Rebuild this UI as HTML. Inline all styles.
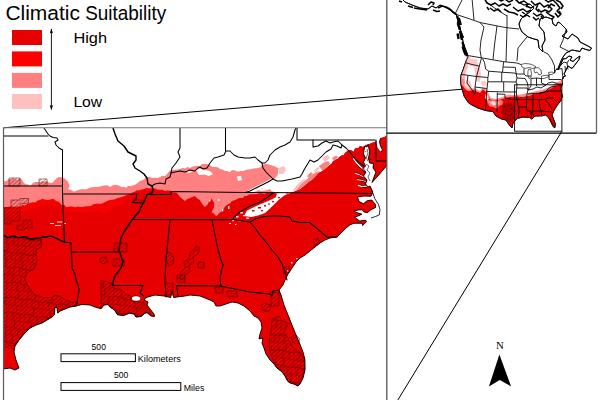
<!DOCTYPE html>
<html><head><meta charset="utf-8">
<style>
html,body{margin:0;padding:0;background:#fff;}
body{width:600px;height:400px;overflow:hidden;font-family:"Liberation Sans",sans-serif;}
svg{display:block;position:absolute;left:0;top:0;}
text{font-family:"Liberation Sans",sans-serif;fill:#000;}
.serif{font-family:"Liberation Serif",serif;}
.b{fill:none;stroke:#000;stroke-width:1.05;stroke-linejoin:round;stroke-linecap:round;}
.bt{fill:none;stroke:#000;stroke-width:1.45;stroke-linejoin:round;stroke-linecap:round;}
.c{fill:none;stroke:#000;stroke-width:0.85;stroke-linejoin:round;}
.ib{fill:none;stroke:#000;stroke-width:0.85;stroke-linejoin:round;}
</style></head><body>
<svg width="600" height="400" viewBox="0 0 600 400">
<defs>
<pattern id="hatch" width="2.9" height="2.9" patternUnits="userSpaceOnUse" patternTransform="rotate(-42)">
<line x1="0" y1="1.45" x2="2.9" y2="1.45" stroke="#400000" stroke-width="0.45" opacity="0.8"/>
</pattern>
<pattern id="cells" width="17" height="15" patternUnits="userSpaceOnUse" patternTransform="rotate(8)">
<path d="M0 0H17M0 7.5H8.5M8.5 8.5H17M0 0V15M8.5 0V7.5M6 7.5V15M13 8.5V15" stroke="#400000" stroke-width="0.45" fill="none"/>
</pattern>
<clipPath id="mainclip"><rect x="3.5" y="127.8" width="383.3" height="280"/></clipPath>
<clipPath id="insetclip"><rect x="386.8" y="-5" width="209.7" height="138"/></clipPath>
</defs>
<rect width="600" height="400" fill="#fff"/>

<!-- ZOOM LINES -->
<g id="zoomlines" stroke="#000" stroke-width="1" fill="none">
<line x1="3.5" y1="127.8" x2="514.6" y2="84.8"/>
<line x1="561.9" y1="131.2" x2="385.4" y2="420.4"/>
</g>

<!-- INSET -->
<g id="inset" clip-path="url(#insetclip)">
<polygon points="400,-3 405,2 412,5 420,8 428,9 432,6 436,8 440,5 445,7 450,10 455,14 457,16 459,22 460,28 462,35 463,42 465,48 467,53 468,57 466.5,60 465,64 463,70 461,75 460.6,80 461,85 462,89 464.4,96.7 468.7,103 472,105 472,105 478,108 485.6,110.5 493,111.6 496,116 501.6,119 506,120 510,126 512,128 513,123 517,118.5 523,117 529.7,117.5 531.8,119 535,116 542.5,115.8 545.6,114.8 548.8,118 551,122 553,126.4 554.8,127.8 555.3,124 553.5,119 552,114.8 554,110.5 557.3,105.2 560.5,101 562.3,96.7 561.3,91.4 560.5,88 562.6,84 562,80 563,77 565.5,76 564,74 566,70 568,66 572,68.5 574,66 579,59.5 580,56 577,58 573,61.5 570,60 572,57 569,56 566,58.5 563,59 561,64 558,70 559,66 561,61 563,57 566,53 572,50 580,51.5 582,48 586,49.5 590,50.5 591.5,48 586,45 580,42 578,38 572,34 568,39 562,36 567,32 566,29 560,23 558,22 556,26 553,24 552,19 546,17 540,19 539,26 544,32 545,40 542,46 543,52 539,48 538,40 534,39 528,37 522,32 520,28 519,24 521,19 525,15 530,12 534,8 530,4 524,5 518,2 512,-3" fill="#fff" stroke="#000" stroke-width="0.9" stroke-linejoin="round"/>
<polygon points="466.5,55.5 470,57 469,62 468,66 466,72 465,78 465,84 461,85 460.6,80 461,75 463,70 465,64" fill="#ffb8b8" />
<polygon points="471,59 476,60 477,64 473,65 470,63" fill="#ff8888" />
<polygon points="461,78 464,79 465.5,84 461,85 460.6,80" fill="#ff8888" />
<polygon points="476,68 479,67 480,74 479,81 476.5,80 477,73" fill="#ff8888" />
<polygon points="468,58 477,59.5 478,65 474,67 470,66 468,62" fill="#ffc8c8" />
<polygon points="474,66 480,66 481,75 480,82 476,81 475,73" fill="#ffc8c8" />
<polygon points="466,80 470,81 472,86 471,90 468,91 466,87" fill="#ffc8c8" />
<polygon points="481,81 486,81.5 487,85 483,86 481,84" fill="#ffc8c8" />
<polygon points="461,83 464,84 466,87 468,89 474,88 480,91 483,87.5 487,90 489.5,95 491,98 496,99 501.6,97.3 508.5,94.6 512,95 521,94.6 532,92 542.5,89.8 551,86.3 557,82.3 560.5,80.5 563.5,80 560.5,88 561.3,91.4 562.3,96.7 560.5,101 557.3,105.2 554,110.5 552,114.8 553.5,119 555.3,124 554.8,127.8 553,126.4 551,122 548.8,118 545.6,114.8 542.5,115.8 535,116 531.8,119 529.7,117.5 523,117 517,118.5 513,123 512,128 510,126 506,120 501.6,119 496,116 493,111.6 485.6,110.5 478,108 472,105 468.7,103 464.4,96.7" fill="#ff9090" />
<polygon points="461,85 463,86 465,89 468,91 474,90 480,93 483,89.5 486,92 488,96 490,99.5 496,100.5 502,99 509,97 515.6,96.5 522.5,97 529.4,95.8 536,93.8 543,91.7 550,89 555.5,86 558,84 560.5,83 562.6,84 560.5,88 561.3,91.4 562.3,96.7 560.5,101 557.3,105.2 554,110.5 552,114.8 553.5,119 555.3,124 554.8,127.8 553,126.4 551,122 548.8,118 545.6,114.8 542.5,115.8 535,116 531.8,119 529.7,117.5 523,117 517,118.5 513,123 512,128 510,126 506,120 501.6,119 496,116 493,111.6 485.6,110.5 478,108 472,105 468.7,103 464.4,96.7" fill="#e60000" />
<polygon points="503,104 508,102 514,104 516,110 514,118 510,124 507,120 503,118 501,112" fill="#b00000" />
<polygon points="486.5,99 490,100.5 493,100 497,101 500,99.5 503,101 502.5,104.5 499,106 497,109 493.5,107 490,106.5 488,104" fill="#ff7070" />
<polygon points="489,101 492,101.5 493,104 490.5,104.5" fill="#ffb0b0" />
<polygon points="496,102 499,101.5 500,104 497,105" fill="#ffa0a0" />
<polygon points="485.5,94 488,95.5 489,99 487,100.5 485,98" fill="#ffe0e0" />
<polygon points="492,101 495,101.5 496,104.5 493,105.5 491.5,103.5" fill="#ffe0e0" />
<rect x="504" y="106" width="1.1" height="1.1" fill="#300" opacity="0.75"/>
<rect x="506" y="109" width="1.1" height="1.1" fill="#300" opacity="0.75"/>
<rect x="508" y="105" width="1.1" height="1.1" fill="#300" opacity="0.75"/>
<rect x="509" y="111" width="1.1" height="1.1" fill="#300" opacity="0.75"/>
<rect x="511" y="108" width="1.1" height="1.1" fill="#300" opacity="0.75"/>
<rect x="505" y="113" width="1.1" height="1.1" fill="#300" opacity="0.75"/>
<rect x="508" y="115" width="1.1" height="1.1" fill="#300" opacity="0.75"/>
<rect x="511" y="114" width="1.1" height="1.1" fill="#300" opacity="0.75"/>
<rect x="513" y="110" width="1.1" height="1.1" fill="#300" opacity="0.75"/>
<rect x="507" y="118" width="1.1" height="1.1" fill="#300" opacity="0.75"/>
<rect x="510" y="119" width="1.1" height="1.1" fill="#300" opacity="0.75"/>
<rect x="512" y="117" width="1.1" height="1.1" fill="#300" opacity="0.75"/>
<rect x="514" y="113" width="1.1" height="1.1" fill="#300" opacity="0.75"/>
<rect x="503" y="110" width="1.1" height="1.1" fill="#300" opacity="0.75"/>
<rect x="530" y="113" width="1.1" height="1.1" fill="#300" opacity="0.75"/>
<rect x="533" y="114" width="1.1" height="1.1" fill="#300" opacity="0.75"/>
<rect x="527" y="115" width="1.1" height="1.1" fill="#300" opacity="0.75"/>
<rect x="551" y="121" width="1.1" height="1.1" fill="#300" opacity="0.75"/>
<rect x="552.5" y="123.5" width="1.1" height="1.1" fill="#300" opacity="0.75"/>
<rect x="553.5" y="125.5" width="1.1" height="1.1" fill="#300" opacity="0.75"/>
<rect x="550" y="119" width="1.1" height="1.1" fill="#300" opacity="0.75"/>
<rect x="540" y="108" width="1.1" height="1.1" fill="#300" opacity="0.75"/>
<rect x="543" y="110" width="1.1" height="1.1" fill="#300" opacity="0.75"/>
<rect x="521" y="113" width="1.1" height="1.1" fill="#300" opacity="0.75"/>
<rect x="518" y="115" width="1.1" height="1.1" fill="#300" opacity="0.75"/>
<polygon points="521,64.5 525,63.5 530,64 534,65.5 536,67 533,68.5 529,67.5 525,68.5 522,67" fill="#fff" stroke="#000" stroke-width="0.6"/>
<polygon points="528.5,69.5 530.5,69 531.5,73 531,77.5 529,78.5 527.8,75 528,71" fill="#fff" stroke="#000" stroke-width="0.6"/>
<polygon points="534.5,68 538,67.5 541,70 541.5,74 539,75 537,72 535,73 534,70.5" fill="#fff" stroke="#000" stroke-width="0.6"/>
<polygon points="541.5,76 545,75.5 549,75 548,77 544,78.5 541.5,78.5" fill="#fff" stroke="#000" stroke-width="0.6"/>
<polygon points="548.5,72.5 552,72 554.5,73 552,74.5 549,74.5" fill="#fff" stroke="#000" stroke-width="0.6"/>
<polyline class="ib" points="455,14 463,-2" />
<polyline class="ib" points="455,14 470,19 480,22.5 495,25.5 506,27.6 519,29" />
<polyline class="ib" points="472,-2 474,20" />
<polyline class="ib" points="480,22.5 484,27 481,40 480,50 481.4,58.5" />
<polyline class="ib" points="497,26 494.5,45 493,59.5" />
<polyline class="ib" points="507,28 506.5,45 506,61.8" />
<polyline class="ib" points="527,37 522,43 518,48 517,61" />
<polyline class="ib" points="507,15 507,28" />
<polyline class="ib" points="486,2 496,9 507,16" />
<polyline class="ib" points="466.5,55.3 482.5,58 503.7,61.7 517,63 521,64.5" />
<polyline class="ib" points="465.5,62.7 472,64.5 479.3,66" />
<polyline class="ib" points="481.4,58.5 479.3,66 478,71 476.5,76.5" />
<polyline class="ib" points="461,74.4 468,75.3 476.5,76.5 487.8,77.5" />
<polyline class="ib" points="482.5,58.5 484.6,62.7 485.6,69 488.8,71.2 488,77.5" />
<polyline class="ib" points="488.8,71.2 502.6,72.3" />
<polyline class="ib" points="503.7,61.7 503,67 502.6,72.3" />
<polyline class="ib" points="503,67 515.4,67.4" />
<polyline class="ib" points="502.6,72.3 514.3,73 517,74" />
<polyline class="ib" points="487.8,77.5 487.8,81.8 501.6,81.8 501.8,72.3" />
<polyline class="ib" points="468,75.3 467,83 475,94" />
<polyline class="ib" points="476.5,76.5 475,87 475.5,92 474,95" />
<polyline class="ib" points="475,87 486.8,88.5" />
<polyline class="ib" points="487.8,81.8 486.7,91.4 485.6,110.5" />
<polyline class="ib" points="486.7,91.4 503.7,91.9 516.4,92" />
<polyline class="ib" points="501.6,81.8 503.7,81.8 503.7,91.4" />
<polyline class="ib" points="497.3,92.5 497,111.6" />
<polyline class="ib" points="503.7,81.8 516,82 517,84 516.4,92" />
<polyline class="ib" points="497.3,94 505,94.3 505,98 512,99.5 517,99.5" />
<polyline class="ib" points="516.4,92 517,99.5 518.5,107 519,112 518,117" />
<polyline class="ib" points="515.4,67.4 516,73 517,78 516,82" />
<polyline class="ib" points="517,74 524,74 526,76" />
<polyline class="ib" points="517,78 525,78.5 527,82" />
<polyline class="ib" points="516.4,88 527,88 528,90" />
<polyline class="ib" points="517,99.5 527,99.5" />
<polyline class="ib" points="518.5,107 526.5,107" />
<polyline class="ib" points="527,82 528,86 528,90 527,94 526.5,99.5 526.5,107 527,111 531,111 531.5,117" />
<polyline class="ib" points="524,68.5 524,74" />
<polyline class="ib" points="526,76 531,76" />
<polyline class="ib" points="531,78.5 531,86 528,90" />
<polyline class="ib" points="536.5,78 536.5,86" />
<polyline class="ib" points="531,78.5 536.5,78 541.5,78.5" />
<polyline class="ib" points="528,90 533,89 537,87 541,88 546,85" />
<polyline class="ib" points="528,94 540,93 550,91" />
<polyline class="ib" points="527,99.5 533,99.5" />
<polyline class="ib" points="533,94 533,99.5 532.5,111 533.5,116" />
<polyline class="ib" points="539,99.5 540,108 541,111 542,115" />
<polyline class="ib" points="533,99.5 539,99.5 545,99.5" />
<polyline class="ib" points="532.5,111 541,111 552,112" />
<polyline class="ib" points="545,99.5 549,104 552,109" />
<polyline class="ib" points="545,99.5 548,98 553,98 557,102" />
<polyline class="ib" points="540,93 545,92 548,89 551,87 556,86" />
<polyline class="ib" points="550,91 562,91" />
<polyline class="ib" points="541.5,78.5 541.5,83 546,85 548,83 552,82" />
<polyline class="ib" points="549,75 549,79.5 561,79.5" />
<polyline class="ib" points="552,82 556,83 560,85" />
<polyline class="ib" points="554.5,73 556,69.5 562,68.5" />
<polyline class="ib" points="562,68.5 562.5,75 563.5,79" />
<polyline class="ib" points="565,66 565.5,72" />
<polyline class="ib" points="567,63 568,69.5" />
<polyline class="ib" points="556,69.5 560,66 564,62 567,63 569,60" />
<polyline class="ib" points="544,52 548,54 552,60 554.5,66 554.5,73" />
<polyline class="ib" points="566,30 563,40 560,47 570,52" />
<polyline class="ib" points="400,-3 405,2 412,5 420,8 428,9 432,6 436,8 440,5 445,7 450,10 455,14 457,16 459,22 460,28 462,35 463,42 465,48 467,53 468,57 466.5,60 465,64 463,70 461,75 460.6,80 461,85 462,89 464.4,96.7 468.7,103 472,105 472,105 478,108 485.6,110.5 493,111.6 496,116 501.6,119 506,120 510,126 512,128 513,123 517,118.5 523,117 529.7,117.5 531.8,119 535,116 542.5,115.8 545.6,114.8 548.8,118 551,122 553,126.4 554.8,127.8 555.3,124 553.5,119 552,114.8 554,110.5 557.3,105.2 560.5,101 562.3,96.7 561.3,91.4 560.5,88 562.6,84 562,80 563,77 565.5,76 564,74 566,70 568,66 572,68.5 574,66 579,59.5 580,56 577,58 573,61.5 570,60 572,57 569,56 566,58.5 563,59 561,64 558,70 559,66 561,61 563,57 566,53 572,50 580,51.5 582,48 586,49.5 590,50.5 591.5,48 586,45 580,42 578,38 572,34 568,39 562,36 567,32 566,29 560,23 558,22 556,26 553,24 552,19 546,17 540,19 539,26 544,32 545,40 542,46 543,52 539,48 538,40 534,39 528,37 522,32 520,28 519,24 521,19 525,15 530,12 534,8 530,4 524,5 518,2 512,-3" />
<polyline class="ib" points="484,-2 487,3 491,5 495,3 499,6 503,4 507,6 511,4" style="stroke-width:1.5"/>
<polyline class="ib" points="513,7 518,11 523,9 527,12 531,10" style="stroke-width:1.5"/>
<polyline class="ib" points="504,9 509,12 514,13 518,15" style="stroke-width:1.5"/>
<polyline class="ib" points="531,1 535,5 540,3 544,7 548,5 552,9 549,12 545,10 541,12 538,9" style="stroke-width:1.5"/>
<polyline class="ib" points="543,-2 548,2 553,0 557,4 560,8 557,11 560,14" style="stroke-width:1.5"/>
<polyline class="ib" points="520,15 523,17 527,15 530,17" style="stroke-width:1.5"/>
<polyline class="ib" points="533,13 537,16 541,14 544,17" style="stroke-width:1.5"/>
<polyline class="ib" points="555,13 558,17 561,14 559,11" style="stroke-width:1.5"/>
<polyline class="ib" points="490,8 494,11 498,9 501,12" style="stroke-width:1.5"/>
<polyline class="ib" points="546,12 550,15 554,17 552,19" style="stroke-width:1.5"/>
<polyline class="ib" points="538,4 536,9 539,12" style="stroke-width:1.5"/>
<polyline class="ib" points="515,-2 519,3 524,1 528,4 526,7" style="stroke-width:1.5"/>
<polyline class="ib" points="526,6 531,8 534,6" style="stroke-width:1.5"/>
<polyline class="ib" points="497,-2 501,1 505,-1 509,2 513,0" style="stroke-width:1.5"/>
<polyline class="ib" points="548,8 551,4 555,6" style="stroke-width:1.5"/>
<polyline class="ib" points="533,17 536,20 539,18" style="stroke-width:1.5"/>
<polyline class="ib" points="556,0 560,2 563,6 561,9" style="stroke-width:1.5"/>
<polyline class="ib" points="541,16 543,19" style="stroke-width:1.5"/>
<polyline class="ib" points="522,12 525,14" style="stroke-width:1.5"/>
<polyline class="ib" points="487,7 489,10" style="stroke-width:1.5"/>
<polyline class="ib" points="399,1 402,2" style="stroke-width:1.6"/>
<polyline class="ib" points="408,6 413,7.5" style="stroke-width:1.6"/>
<polyline class="ib" points="414,8 420,9 427,10" style="stroke-width:1.6"/>
<polyline class="ib" points="428,5 431,2 434,3 433,5" style="stroke-width:1.6"/>
<polyline class="ib" points="433,10 437,11.5 440,11" style="stroke-width:1.6"/>
<polyline class="ib" points="438,8 442,6 446,7 450,9" style="stroke-width:1.6"/>
<polyline class="ib" points="450,9 453,12 457,15" style="stroke-width:1.6"/>
<polyline class="ib" points="457,16 458.5,20 458,24 460,30" style="stroke-width:2.4"/>
<polyline class="ib" points="460,31 461,36 462,40" style="stroke-width:2.4"/>
<polyline class="ib" points="462.5,42 464.5,50 467,56" style="stroke-width:2.4"/>
<polyline class="ib" points="458.8,18 460.8,25" style="stroke-width:2.4"/>
<polyline class="ib" points="461,33 463,38" style="stroke-width:2.4"/>
<polyline class="ib" points="457.6,33.5 458.6,39" style="stroke-width:2.4"/>
<polyline class="ib" points="462.6,46.5 464,51 465.8,55" style="stroke-width:2.4"/>
</g>
<rect x="514.6" y="84.8" width="47.3" height="46.4" fill="none" stroke="#000" stroke-width="0.9"/>

<!-- MAIN MAP -->
<g id="main" clip-path="url(#mainclip)">
<polygon points="3.0,181.0 6.4,181.2 9.0,179.0 11.3,179.4 13.3,177.5 15.7,179.4 17.9,179.4 20.0,178.0 22.3,180.3 24.0,183.0 25.9,184.2 28.2,184.6 30.0,186.0 33.0,183.0 35.2,182.0 37.6,181.9 40.0,182.0 42.2,181.0 44.7,181.5 47.0,181.0 49.2,182.8 52.0,183.0 55.0,180.0 57.1,177.8 60.0,177.0 64.0,178.0 66.0,179.5 67.8,181.6 69.0,184.0 69.6,186.7 68.0,189.0 70.9,189.8 73.5,191.5 75.8,191.0 77.9,190.0 80.2,189.6 82.5,189.0 85.1,189.6 87.6,188.8 89.9,187.6 92.5,187.3 95.0,187.1 97.5,187.0 100.0,186.6 102.4,185.7 104.9,185.6 107.4,185.2 110.1,186.9 112.5,185.5 114.9,184.7 117.2,185.0 119.4,185.7 121.5,187.0 123.8,187.0 126.0,187.7 128.0,186.1 130.4,186.0 132.7,185.4 135.0,184.7 137.6,183.0 140.0,181.0 144.0,179.5 146.0,177.0 149.1,176.7 152.0,178.0 154.7,177.7 157.4,178.0 160.0,177.0 162.4,175.8 165.0,176.0 168.0,173.0 169.5,170.8 172.0,170.0 174.7,169.7 177.4,169.6 180.0,169.0 182.4,168.0 185.0,168.5 187.4,167.0 190.0,168.0 192.9,166.6 196.0,166.0 200.0,166.0 202.0,164.1 204.5,164.1 207.0,164.0 210.0,165.0 212.2,166.9 215.0,167.0 217.8,167.3 220.0,169.0 222.6,169.6 225.0,171.0 227.2,171.0 229.5,172.3 231.8,170.2 234.0,170.0 236.2,171.3 238.5,171.4 240.8,171.0 243.0,171.0 247.0,169.5 249.2,169.4 251.4,169.1 253.6,168.6 255.8,168.3 258.0,168.0 260.5,167.2 262.0,165.0 265.0,164.0 267.6,164.1 270.0,165.0 274.0,166.0 275.9,167.1 278.0,168.0 278.0,170.5 278.0,173.0 277.6,175.3 276.0,177.0 273.0,180.0 270.0,183.0 268.0,184.4 266.1,185.8 264.0,187.0 262.4,188.9 260.0,189.0 258.0,190.0 262.0,191.0 264.7,190.4 267.4,189.9 270.0,189.0 271.7,191.3 274.5,192.0 277.7,191.9 280.0,194.0 282.4,195.2 285.0,195.0 287.7,193.1 291.0,192.7 293.2,191.7 295.5,190.7 297.3,189.0 300.0,189.0 302.0,187.6 303.7,185.9 304.8,183.5 307.5,183.0 309.3,181.5 311.6,180.4 313.3,178.7 315.0,177.0 316.6,175.2 318.1,173.2 320.3,172.1 322.5,171.0 324.0,169.1 326.1,167.9 328.2,166.6 330.0,165.0 331.8,163.4 333.0,161.1 335.1,159.8 337.5,159.0 339.2,157.2 341.0,155.7 343.8,155.4 345.0,153.0 348.0,150.5 350.0,150.0 352.2,150.7 354.0,152.0 354.2,149.6 356.0,148.0 358.5,148.1 360.0,146.0 363.0,147.0 366.0,145.0 368.0,144.5 372.0,143.0 376.0,141.5 378.2,140.6 380.0,139.0 381.8,137.6 384.1,137.3 386.0,136.0 388.0,136.0 388,164 383,170 377,177 372,182.5 374,177 376,172 373,168 373.5,163.5 369.5,163 368.5,158 369.7,152 368.7,147.5 368,144.5 367,147 365,146 364,150 363.5,154 365.5,158 363.5,162 365.5,166 362.5,169 366,172 363.5,176 367,180 365.5,184 368,187 370,186 371.7,189.5 372.5,193.2 371,196.2 364,196 357.5,197 359,201.5 363.5,203.7 367.2,200.7 371.7,200 375.5,204.5 375.5,207.5 371,209.7 367.2,212.7 364.2,212 362,209.7 358,210 353.7,211.2 358,213 362,214.2 358,216 354.5,217.2 359.7,221 365.7,220.2 366.5,221.7 362.7,225.5 362,223.2 354.5,223.2 350,224.7 345.5,228.5 341,233 337,237 330,238 325,240 320,243 315,247 310,251 305,255 300,258 296,262 292,268 288,274 285,280 283,285 279,290 281,295 284,305 288,315 292,325 296,335 299,342 303,352 305,360 305,370 303,378 300,384 298,386 294,384 290,383 287,380 285,376 282,372 277,368 274,364 270,360 266,354 264,348 262,343 263,338 259,339 260,334 262,328 261,322 258,318 254,316 250,311 244,306 238,303 232,302 226,304 220,306 216,306 214,302 210,300 205,298 200,296 190,295 185,296 179,296.7 173.7,297.5 172,291 170.7,297.5 164,296 155,295 146,297.5 144,300 148,302 147,305 150,309 154,314 154.5,316.5 151,316 147,312.5 144.5,313.5 141,316.5 136,317 134,314 129.5,313.2 123.5,315.5 117.5,314.7 114.5,310 110,307 108,304.5 104,305 101,308.7 95,307 90,305 82,304.5 76,306 70,307 65,309 60,311 57.7,313 57,307.5 54.8,307.5 54.5,314.5 52,317 47,320 42,323 36,325 30,328 24,334 19,340 15,346 14,352 16,360 19,368 15,370 10,368 3,369" fill="#ff8080" />
<polygon points="278,168 284,166 286,170 283,174 279,174" fill="#ffc0c0" />
<polygon points="322,158 328,155 330,158 325,162" fill="#ffc0c0" />
<polygon points="3.0,207.0 5.4,207.0 7.9,207.0 10.3,206.6 12.7,206.6 15.1,206.9 17.6,206.2 20.0,207.0 22.1,205.0 25.2,205.5 27.4,203.7 30.0,203.0 32.5,202.2 35.3,202.4 37.5,200.6 40.0,200.0 42.3,198.7 44.8,199.5 47.3,200.0 49.7,199.8 52.0,199.0 54.3,199.3 56.0,201.1 58.3,201.4 60.0,203.0 61.6,204.9 64.5,204.9 66.0,207.0 68.4,206.9 70.7,206.2 73.1,206.8 75.4,207.3 77.8,206.4 80.1,207.1 82.5,207.0 84.6,206.5 86.9,206.3 89.1,206.2 91.3,205.8 93.1,204.2 95.3,203.9 97.5,203.5 100.2,204.0 102.6,203.2 105.0,202.0 107.4,200.9 109.9,200.1 112.5,199.7 115.1,199.3 117.4,197.9 120.0,197.5 122.6,196.8 125.1,195.8 127.5,194.5 130.3,194.3 132.5,192.5 135.0,191.5 137.1,190.3 139.5,190.3 141.7,189.4 144.0,189.0 146.9,187.9 150.0,188.5 152.4,188.1 154.8,188.5 157.0,189.5 159.6,189.8 162.2,189.7 164.7,191.0 167.4,190.5 170.0,190.5 172.7,192.4 176.0,192.5 178.3,194.5 180.0,197.0 182.5,198.9 185.0,201.0 187.1,198.9 190.0,198.0 192.5,196.9 195.0,196.0 197.0,198.7 200.0,200.0 200.9,202.9 202.8,205.1 205.0,207.0 208.0,204.0 209.0,201.8 210.9,200.2 212.0,198.0 211.7,200.6 214.3,202.4 214.0,205.0 213.7,207.6 212.1,209.7 211.0,212.0 214.0,213.4 216.0,216.0 218.5,214.9 220.6,213.4 222.0,211.0 223.9,208.4 226.0,206.0 228.1,204.5 230.6,203.3 232.0,201.0 234.8,200.4 237.4,199.1 240.0,198.0 242.6,198.3 244.5,196.2 247.0,196.0 249.5,194.6 252.2,194.4 255.0,194.5 257.3,194.1 259.6,193.5 262.0,193.5 264.4,194.1 266.8,193.1 269.2,192.4 271.6,193.2 274.0,193.0 276.9,194.2 280.0,194.0 282.4,195.1 285.0,195.0 287.7,193.2 291.0,192.7 293.2,191.7 295.5,190.8 297.4,189.1 300.0,189.0 302.0,187.6 303.7,185.9 304.9,183.6 307.5,183.0 309.3,181.5 311.5,180.4 313.3,178.7 315.0,177.0 316.7,175.2 318.2,173.3 320.3,172.2 322.5,171.0 324.1,169.1 326.2,167.9 328.2,166.6 330.0,165.0 331.8,163.4 333.1,161.2 335.1,159.9 337.5,159.0 339.2,157.3 341.1,155.8 343.7,155.2 345.0,153.0 348.0,150.5 350.0,150.0 352.1,150.7 354.0,152.0 354.3,149.7 356.0,148.0 358.5,147.9 360.0,146.0 363.0,147.0 366.0,145.0 368.0,144.5 372.0,143.0 376.0,141.5 378.2,140.5 380.0,139.0 381.8,137.7 384.1,137.2 386.0,136.0 388.0,136.0 388,164 383,170 377,177 372,182.5 374,177 376,172 373,168 373.5,163.5 369.5,163 368.5,158 369.7,152 368.7,147.5 368,144.5 367,147 365,146 364,150 363.5,154 365.5,158 363.5,162 365.5,166 362.5,169 366,172 363.5,176 367,180 365.5,184 368,187 370,186 371.7,189.5 372.5,193.2 371,196.2 364,196 357.5,197 359,201.5 363.5,203.7 367.2,200.7 371.7,200 375.5,204.5 375.5,207.5 371,209.7 367.2,212.7 364.2,212 362,209.7 358,210 353.7,211.2 358,213 362,214.2 358,216 354.5,217.2 359.7,221 365.7,220.2 366.5,221.7 362.7,225.5 362,223.2 354.5,223.2 350,224.7 345.5,228.5 341,233 337,237 330,238 325,240 320,243 315,247 310,251 305,255 300,258 296,262 292,268 288,274 285,280 283,285 279,290 281,295 284,305 288,315 292,325 296,335 299,342 303,352 305,360 305,370 303,378 300,384 298,386 294,384 290,383 287,380 285,376 282,372 277,368 274,364 270,360 266,354 264,348 262,343 263,338 259,339 260,334 262,328 261,322 258,318 254,316 250,311 244,306 238,303 232,302 226,304 220,306 216,306 214,302 210,300 205,298 200,296 190,295 185,296 179,296.7 173.7,297.5 172,291 170.7,297.5 164,296 155,295 146,297.5 144,300 148,302 147,305 150,309 154,314 154.5,316.5 151,316 147,312.5 144.5,313.5 141,316.5 136,317 134,314 129.5,313.2 123.5,315.5 117.5,314.7 114.5,310 110,307 108,304.5 104,305 101,308.7 95,307 90,305 82,304.5 76,306 70,307 65,309 60,311 57.7,313 57,307.5 54.8,307.5 54.5,314.5 52,317 47,320 42,323 36,325 30,328 24,334 19,340 15,346 14,352 16,360 19,368 15,370 10,368 3,369" fill="#f60000" />
<polygon points="3.0,214.0 5.4,213.0 7.8,213.2 10.3,214.3 12.7,212.4 15.1,212.3 17.6,213.2 20.0,213.0 22.6,212.3 24.9,210.9 27.3,209.6 30.0,209.0 32.4,207.8 35.1,207.8 37.5,206.6 40.0,206.0 42.5,206.7 44.9,206.4 47.1,204.3 49.5,204.4 52.0,205.0 54.6,206.1 57.7,206.1 60.0,208.0 62.4,208.7 63.7,211.2 66.0,212.0 68.4,211.2 70.7,212.2 73.1,212.1 75.5,212.0 77.8,213.1 80.2,212.6 82.5,213.0 85.1,213.1 87.5,212.3 90.1,213.0 92.4,211.0 95.1,211.9 97.5,211.0 100.0,211.5 102.4,212.6 105.0,213.0 107.8,212.4 109.8,210.6 112.0,209.0 114.0,207.9 116.3,207.5 117.5,205.1 120.0,205.0 122.2,204.0 123.5,201.6 126.0,201.0 127.9,199.6 130.0,198.7 132.0,197.5 133.7,195.2 135.9,193.7 138.2,192.2 141.0,191.5 143.2,190.9 145.6,191.9 147.7,190.4 150.0,190.5 152.3,190.8 154.7,191.1 157.0,191.5 159.6,191.6 162.2,191.2 164.8,191.1 167.4,191.9 170.0,192.0 172.8,193.7 176.0,193.5 178.1,195.7 180.0,198.0 182.5,200.0 185.0,202.0 187.3,200.1 190.0,199.0 192.4,197.8 195.0,197.0 197.7,198.8 200.0,201.0 201.7,203.3 203.1,205.8 205.0,208.0 208.0,205.0 208.7,202.6 210.0,200.5 212.0,199.0 212.8,201.3 212.7,203.8 214.0,206.0 213.3,208.4 212.2,210.7 211.0,213.0 212.9,215.8 216.0,217.0 217.9,215.0 219.4,212.7 222.0,211.5 224.1,210.2 224.3,207.6 226.0,206.0 228.1,204.5 230.6,203.3 232.0,201.0 234.8,200.4 237.4,199.1 240.0,198.0 242.6,198.3 244.5,196.2 247.0,196.0 249.5,194.6 252.2,194.4 255.0,194.5 257.3,194.1 259.6,193.5 262.0,193.5 264.4,194.1 266.8,193.1 269.2,192.4 271.6,193.2 274.0,193.0 276.9,194.2 280.0,194.0 282.4,195.1 285.0,195.0 287.7,193.2 291.0,192.7 293.2,191.7 295.5,190.8 297.4,189.1 300.0,189.0 302.0,187.6 303.7,185.9 304.9,183.6 307.5,183.0 309.3,181.5 311.5,180.4 313.3,178.7 315.0,177.0 316.7,175.2 318.2,173.3 320.3,172.2 322.5,171.0 324.1,169.1 326.2,167.9 328.2,166.6 330.0,165.0 331.8,163.4 333.1,161.2 335.1,159.9 337.5,159.0 339.2,157.3 341.1,155.8 343.7,155.2 345.0,153.0 348.0,150.5 350.0,150.0 352.1,150.7 354.0,152.0 354.3,149.7 356.0,148.0 358.5,147.9 360.0,146.0 363.0,147.0 366.0,145.0 368.0,144.5 372.0,143.0 376.0,141.5 378.2,140.5 380.0,139.0 381.8,137.7 384.1,137.2 386.0,136.0 388.0,136.0 388,164 383,170 377,177 372,182.5 374,177 376,172 373,168 373.5,163.5 369.5,163 368.5,158 369.7,152 368.7,147.5 368,144.5 367,147 365,146 364,150 363.5,154 365.5,158 363.5,162 365.5,166 362.5,169 366,172 363.5,176 367,180 365.5,184 368,187 370,186 371.7,189.5 372.5,193.2 371,196.2 364,196 357.5,197 359,201.5 363.5,203.7 367.2,200.7 371.7,200 375.5,204.5 375.5,207.5 371,209.7 367.2,212.7 364.2,212 362,209.7 358,210 353.7,211.2 358,213 362,214.2 358,216 354.5,217.2 359.7,221 365.7,220.2 366.5,221.7 362.7,225.5 362,223.2 354.5,223.2 350,224.7 345.5,228.5 341,233 337,237 330,238 325,240 320,243 315,247 310,251 305,255 300,258 296,262 292,268 288,274 285,280 283,285 279,290 281,295 284,305 288,315 292,325 296,335 299,342 303,352 305,360 305,370 303,378 300,384 298,386 294,384 290,383 287,380 285,376 282,372 277,368 274,364 270,360 266,354 264,348 262,343 263,338 259,339 260,334 262,328 261,322 258,318 254,316 250,311 244,306 238,303 232,302 226,304 220,306 216,306 214,302 210,300 205,298 200,296 190,295 185,296 179,296.7 173.7,297.5 172,291 170.7,297.5 164,296 155,295 146,297.5 144,300 148,302 147,305 150,309 154,314 154.5,316.5 151,316 147,312.5 144.5,313.5 141,316.5 136,317 134,314 129.5,313.2 123.5,315.5 117.5,314.7 114.5,310 110,307 108,304.5 104,305 101,308.7 95,307 90,305 82,304.5 76,306 70,307 65,309 60,311 57.7,313 57,307.5 54.8,307.5 54.5,314.5 52,317 47,320 42,323 36,325 30,328 24,334 19,340 15,346 14,352 16,360 19,368 15,370 10,368 3,369" fill="#e60000" />
<polygon points="262.5,165 270,165 274,167 277,172 275,178 272,180 268,175 265,170" fill="#ff8080" />
<polygon points="244,216 247,210.5 252,208 258,205.3 265,202.3 271,199.8 275.7,197.3 277,193.5 285,193 291,190 300,186 307.5,180 307.5,183 300,189 291,192.7 285,195 279,199.5 274,204.5 270,208.5 265,213 258,215.5 251,217" fill="#fff" />
<polygon points="244,192.5 250,189.5 256,186.5 262,183.5 268,180.5 272,178 275,180 270,184 264,187.5 258,190.5 252,192.5" fill="#fff" />
<polygon points="237,176.5 241,176 242,180 238,181" fill="#fff" />
<polygon points="196,170 200,168.5 205,170 210,171 213,174 209,176 204,174.5 199,175" fill="#fff" />
<polygon points="186,170.5 190,170 192,172 188,173" fill="#fff" />
<polygon points="376.6,139 380.5,138 379.5,142 380.5,146 382.5,150 380.5,151.5 377.5,147.5 376.6,143" fill="#fff" />
<rect x="240" y="212" width="3" height="1.5" fill="#fff" opacity="0.85"/>
<rect x="236" y="216" width="2.5" height="1.5" fill="#fff" opacity="0.85"/>
<rect x="243" y="215" width="2" height="1.2" fill="#fff" opacity="0.85"/>
<rect x="232" y="220" width="2" height="1.2" fill="#fff" opacity="0.85"/>
<rect x="238" y="220" width="3" height="1.2" fill="#fff" opacity="0.85"/>
<rect x="246" y="217.5" width="3" height="1.3" fill="#fff" opacity="0.85"/>
<rect x="229" y="223" width="2" height="1" fill="#fff" opacity="0.85"/>
<rect x="235" y="224" width="1.5" height="1" fill="#fff" opacity="0.85"/>
<rect x="250" y="214.5" width="2.5" height="1.2" fill="#fff" opacity="0.85"/>
<rect x="254" y="212" width="2" height="1.2" fill="#fff" opacity="0.85"/>
<rect x="228" y="206" width="1.5" height="3" fill="#fff" opacity="0.85"/>
<rect x="222" y="209" width="1.2" height="2.5" fill="#fff" opacity="0.85"/>
<rect x="218" y="199" width="1.5" height="2" fill="#fff" opacity="0.85"/>
<rect x="209" y="200" width="1.5" height="1.5" fill="#fff" opacity="0.85"/>
<rect x="50" y="223" width="4" height="1" fill="#fff" opacity="0.85"/>
<rect x="57" y="221.5" width="5" height="1" fill="#fff" opacity="0.85"/>
<rect x="63" y="223" width="3" height="1" fill="#fff" opacity="0.85"/>
<rect x="55" y="225" width="6" height="0.9" fill="#fff" opacity="0.85"/>
<rect x="262" y="186" width="2" height="1.5" fill="#fff" opacity="0.85"/>
<rect x="255" y="190" width="2" height="1.2" fill="#fff" opacity="0.85"/>
<rect x="291" y="262" width="1.5" height="1.5" fill="#fff" opacity="0.85"/>
<rect x="296" y="258" width="1.5" height="1.2" fill="#fff" opacity="0.85"/>
<rect x="287" y="270" width="1.2" height="1.5" fill="#fff" opacity="0.85"/>
<rect x="258" y="207" width="3" height="1.5" fill="#e60000"/>
<rect x="264" y="205" width="2" height="1.5" fill="#e60000"/>
<rect x="252" y="210" width="2.5" height="1.5" fill="#e60000"/>
<rect x="268" y="203.5" width="2" height="1.2" fill="#e60000"/>
<rect x="272" y="201" width="2" height="1.3" fill="#e60000"/>
<rect x="261" y="210" width="2" height="1.3" fill="#e60000"/>
<rect x="278" y="197" width="2" height="1.2" fill="#e60000"/>
<rect x="286" y="192.5" width="2.5" height="1" fill="#e60000"/>
<rect x="295" y="188" width="2" height="1" fill="#e60000"/>
<polygon points="292,192 296,186 300,182 304,179 306,180 300,185 296,190.5" fill="#ffc0c0" />
<polygon points="313,171 318,167 320,168 316,172" fill="#ffc0c0" />
<polygon points="296,190.5 300,185 306,180 311,175.5 316,172 320,171 315,177 307.5,183 300,189" fill="#ff8080" />
<polygon points="319,166 324,162.5 328,161 330,163 327,167.5 322.5,171" fill="#ff8080" />
<polygon points="332,158 336,155.5 338,157 334,161" fill="#ff8080" />
<polygon points="307,176 311,172 313,174 309,178" fill="#ff8080" />
<polyline points="365.5,171 361,167 357,163 353.5,158" fill="none" stroke="#fff" stroke-width="1.6"/>
<polyline points="364,177 359,174.5 355,173" fill="none" stroke="#fff" stroke-width="1.2"/>
<polyline points="366,181.5 361,180 357,179.5" fill="none" stroke="#fff" stroke-width="1.2"/>
<polyline points="367,186 362,186.5 358,185" fill="none" stroke="#fff" stroke-width="1.4"/>
<polyline points="367,149 368,153 366.5,157 367.5,161" fill="none" stroke="#000" stroke-width="0.6"/>
<polyline points="366,164 369,166 367,170 370,173 368,177 370,181" fill="none" stroke="#000" stroke-width="0.6"/>
<polyline points="369,160 371,159" fill="none" stroke="#000" stroke-width="0.6"/>
<polyline points="365,152 366.5,151" fill="none" stroke="#000" stroke-width="0.6"/>
<polyline points="365.5,170 361,166 357,162 353.5,157" fill="none" stroke="#000" stroke-width="0.6"/>
<polyline points="365,172.5 360.5,168.5 356.5,164.5" fill="none" stroke="#000" stroke-width="0.6"/>
<polyline points="364,176.3 359,173.8 355,172.3" fill="none" stroke="#000" stroke-width="0.6"/>
<polyline points="364,178 359,175.6" fill="none" stroke="#000" stroke-width="0.6"/>
<polyline points="366,180.8 361,179.3 357,178.8" fill="none" stroke="#000" stroke-width="0.6"/>
<polyline points="366,182.5 361,181" fill="none" stroke="#000" stroke-width="0.6"/>
<polyline points="367,185.2 362,185.7 358,184.2" fill="none" stroke="#000" stroke-width="0.6"/>
<polyline points="367,187.2 362,187.6" fill="none" stroke="#000" stroke-width="0.6"/>
<ellipse cx="136" cy="298.5" rx="4.5" ry="2.6" fill="#fff" stroke="#300" stroke-width="0.5"/>
<polygon points="9,178 20,178 20,186 9,186" fill="url(#hatch)" stroke="#400" stroke-width="0.5"/>
<polygon points="39,179 47,179 47,186 39,186" fill="url(#hatch)" stroke="#400" stroke-width="0.5"/>
<polygon points="11,200 20,200 20,198.5 28.5,198.5 28.5,203 20,204 20,221 11,221 11,224 4,224 4,208 11,208" fill="url(#hatch)" stroke="#400" stroke-width="0.5"/>
<polygon points="23,220 32,220 32,228 25,228 25,230 17,230 17,225 23,225" fill="url(#hatch)" stroke="#400" stroke-width="0.5"/>
<polygon points="3,238 10,238 20,237 30,239 41.6,239 41.6,247 36,250 37,261.5 33.8,269.4 27,272.8 24.8,279.5 28,286 33.8,294 42.8,297.5 51.8,297.5 55,295 60.8,296.4 65.3,299.8 72,302 77.7,303 76,306 70,307 65,309 60,311 57.7,313 57,307.5 54.8,307.5 54.5,314.5 52,317 47,320 42,323 36,325 30,328 24,334 19,340 15,346 13,349 9,345 6,348 3,346" fill="url(#hatch)" stroke="#400" stroke-width="0.5"/>
<polygon points="3,238 10,238 20,237 30,239 41.6,239 41.6,247 36,250 37,261.5 33.8,269.4 27,272.8 24.8,279.5 28,286 33.8,294 42.8,297.5 51.8,297.5 55,295 60.8,296.4 65.3,299.8 72,302 77.7,303 76,306 70,307 65,309 60,311 57.7,313 57,307.5 54.8,307.5 54.5,314.5 52,317 47,320 42,323 36,325 30,328 24,334 19,340 15,346 13,349 9,345 6,348 3,346" fill="url(#cells)" />
<polygon points="101,280 112,283 113,288 120,289 126,294 131,296 132,301 140,302 144,303 146,307 149,311 151,316 147,312.5 144.5,313.5 141,316.5 136,317 134,314 129.5,313.2 123.5,315.5 117.5,314.7 114.5,310 110,307 108,304.5 104,305 101,308.7" fill="url(#hatch)" stroke="#400" stroke-width="0.5"/>
<polygon points="101,280 112,283 113,288 120,289 126,294 131,296 132,301 140,302 144,303 146,307 149,311 151,316 147,312.5 144.5,313.5 141,316.5 136,317 134,314 129.5,313.2 123.5,315.5 117.5,314.7 114.5,310 110,307 108,304.5 104,305 101,308.7" fill="url(#cells)" />
<polygon points="165.5,283 173,283 173,295 165.5,295" fill="url(#hatch)" stroke="#400" stroke-width="0.5"/>
<polygon points="177,275 185,275 185,282.5 177,282.5" fill="url(#hatch)" stroke="#400" stroke-width="0.5"/>
<polygon points="114,243 127,243 127,252 114,252" fill="url(#hatch)" stroke="#400" stroke-width="0.5"/>
<polygon points="113,259 124,259 124,266 113,266" fill="url(#hatch)" stroke="#400" stroke-width="0.5"/>
<polygon points="100,258 106,257 108,262 103,264 100,262" fill="url(#hatch)" stroke="#400" stroke-width="0.5"/>
<polygon points="133,200 144,200 144,203 133,203" fill="url(#hatch)" stroke="#400" stroke-width="0.5"/>
<polygon points="166,254 170,252 174,258 173,264 169,266 166,261" fill="url(#hatch)" stroke="#400" stroke-width="0.5"/>
<polygon points="196,246 200,248 198,254 193,257 194,263 189,266 190,272 185,275 184,280 180,279 181,272 185,268 184,262 189,259 190,253 194,250" fill="url(#hatch)" stroke="#400" stroke-width="0.5"/>
<polygon points="198,262 204,262 204,268 198,268" fill="url(#hatch)" stroke="#400" stroke-width="0.5"/>
<polygon points="215,287 223,287 223,293 215,293" fill="url(#hatch)" stroke="#400" stroke-width="0.5"/>
<polygon points="227,291 237,291 237,297 227,297" fill="url(#hatch)" stroke="#400" stroke-width="0.5"/>
<polygon points="261,305 266,303 271,306 270,311 263,311" fill="url(#hatch)" stroke="#400" stroke-width="0.5"/>
<polygon points="271,292 279,292 279,306 271,306" fill="url(#hatch)" stroke="#400" stroke-width="0.5"/>
<polygon points="272,319 279,316 283,321 289,323 284,332 288,338 292,346 296,350 300,352 304,358 305,368 302,380 298,386 294,384 288,382 284,374 276,366 270,354 269,342 271,330" fill="url(#hatch)" stroke="#400" stroke-width="0.5"/>
<polygon points="272,319 279,316 283,321 289,323 284,332 288,338 292,346 296,350 300,352 304,358 305,368 302,380 298,386 294,384 288,382 284,374 276,366 270,354 269,342 271,330" fill="url(#cells)" />
<polygon points="291,337 296,335 300,339 298,344 293,343" fill="url(#hatch)" stroke="#400" stroke-width="0.5"/>
<polygon points="283,268 289,266 290,272 284,274" fill="url(#hatch)" stroke="#400" stroke-width="0.5"/>
<polygon points="313,240 318,238 320,243 315,246" fill="url(#hatch)" stroke="#400" stroke-width="0.5"/>
<polyline class="c" points="388,164 383,170 377,177 372,182.5 374,177 376,172 373,168 373.5,163.5 369.5,163 368.5,158 369.7,152 368.7,147.5 368,144.5 367,147 365,146 364,150 363.5,154 365.5,158 363.5,162 365.5,166 362.5,169 366,172 363.5,176 367,180 365.5,184 368,187 370,186 371.7,189.5 372.5,193.2 371,196.2 364,196 357.5,197 359,201.5 363.5,203.7 367.2,200.7 371.7,200 375.5,204.5 375.5,207.5 371,209.7 367.2,212.7 364.2,212 362,209.7 358,210 353.7,211.2 358,213 362,214.2 358,216 354.5,217.2 359.7,221 365.7,220.2 366.5,221.7 362.7,225.5 362,223.2 354.5,223.2 350,224.7 345.5,228.5 341,233 337,237 330,238 325,240 320,243 315,247 310,251 305,255 300,258 296,262 292,268 288,274 285,280 283,285 279,290 281,295 284,305 288,315 292,325 296,335 299,342 303,352 305,360 305,370 303,378 300,384 298,386 294,384 290,383 287,380 285,376 282,372 277,368 274,364 270,360 266,354 264,348 262,343 263,338 259,339 260,334 262,328 261,322 258,318 254,316 250,311 244,306 238,303 232,302 226,304 220,306 216,306 214,302 210,300 205,298 200,296 190,295 185,296 179,296.7 173.7,297.5 172,291 170.7,297.5 164,296 155,295 146,297.5 144,300 148,302 147,305 150,309 154,314 154.5,316.5 151,316 147,312.5 144.5,313.5 141,316.5 136,317 134,314 129.5,313.2 123.5,315.5 117.5,314.7 114.5,310 110,307 108,304.5 104,305 101,308.7 95,307 90,305 82,304.5 76,306 70,307 65,309 60,311 57.7,313 57,307.5 54.8,307.5 54.5,314.5 52,317 47,320 42,323 36,325 30,328 24,334 19,340 15,346 14,352 16,360 19,368 15,370 10,368 3,369"/>
<polyline class="c" points="371.7,189.5 374.7,198.5 378.5,204.5 380,209.7 379.2,215 375.5,216.5 371,218"/>
<polyline class="c" points="380.5,138 379.5,142 380.5,146 382.5,150 381,152"/>
<polyline class="b" points="3,136 48,136"/>
<polyline class="b" points="44,128 46,131 48,134 50,136 53,137.5 57,138 58,140 55,142 56,145 59,148 62.5,150"/>
<polyline class="b" points="62.5,150 62.5,194 64.5,242 71,243 71.5,252"/>
<polyline class="b" points="3,186 62.5,186"/>
<polyline class="b" points="62.5,194 137,194 136,199 132.5,202.5 141,202.7"/>
<polyline class="b" points="71.5,252 119,252"/>
<polyline class="b" points="71.5,252 72,268 75,274 76,280 78,285 79,290 78,296 77,302 76,306"/>
<polyline class="b" points="112.5,285.5 143,285.5 140,293 143.7,296"/>
<polyline class="b" points="180,128 180,148 178,152 180,157 176,163 172,168 171,173 170,177 166,179 165,184 160,183 155,184 152,186"/>
<polyline class="b" points="171,173 175,172 180,171 185,172 190,170 195,171 198,168 200,167 203,169 207,168 210,163 214,158 218,157 224,155 226,151 230,151 234,155 238,157 245,158 250,158 255,157 258,160 262,163 265,163 268,160 270,155 275,150 280,147 285,145 290,142 293,137 295,130 296,128"/>
<polyline class="b" points="225.5,128 225.5,151"/>
<polyline class="b" points="297,128 297,140 375,140"/>
<polyline class="b" points="147,194.5 171,194.5 171,191.5 245,192.5 300,192.7 372,193.6"/>
<polyline class="b" points="262,163 263,168 266,172 270,176 273,179"/>
<polyline class="b" points="273,179 268,182 262,185 256,188 250,191 245,192.5"/>
<polyline class="b" points="273,179 277,181 282,181 287,180 292,179 296,178 300,177 302,174 304,170 307,165 310,160 314,162 318,160 322,156 326,152 331,149 333,145 337,146 341,148 342,145"/>
<polyline class="b" points="313,140 313,147 318,146 322,143 326,141 330,143 333,142 338,141 342,145 346,148 350,152 353,156 356,160 360,163 364,166"/>
<polyline class="b" points="132,219.5 233,219.6 250,222"/>
<polyline class="b" points="273,193 268,197 260,202 250,206 240,212 234,217 233,219.6"/>
<polyline class="b" points="250,222 255,219 262,217 270,216 280,216 290,217 292,221 300,222.4 309.6,222.4 327,237 337,237"/>
<polyline class="b" points="170,219.5 168,240 166,260 165,280 166,297"/>
<polyline class="b" points="212,219.5 215,235 218,250 221,260 223,265 221,272 220,280 221,286"/>
<polyline class="b" points="250,222 255,228 260,235 266,242 272,250 278,257 282,264 285,272 287,280"/>
<polyline class="b" points="178,296 176.7,285.5 221,286 230,288 250,292 270,294 272,296 273,291 279,290"/>
<polyline class="b" points="376,140 376,161 388,161"/>
<polyline class="bt" points="113,128 115,134 118,141 124,146 128,152 132,154 136,156 136,160 133,164 135,168 140,171 144,174 147,178 148,184 152,186 153,190 152,193 147,194.5 145,200 141,207 139,212 136,215 132,220 128,226 124,232 121,238 120,244 119,250 121,256 123,262 121,268 118,272 115,276 113.7,280 112.5,285.5"/>
<polyline class="bt" points="3,235 8,237.6 11,236.5 14,236 17,237.5 20,237.6 23,236.8 26,237 29,238.5 32,239 36,238.2 40,238 43,237 46,237 49,236.2 52,236.4 55,237.8 58,239 61,240.8 64.5,242"/>
</g>

<!-- FRAMES -->
<g id="frames" fill="none">
<path d="M3.5 400V127.8" stroke="#5a5a62" stroke-width="1.2"/><path d="M3 127.8H386.8" stroke="#777" stroke-width="1.1"/>
<path d="M386.8 0V400" stroke="#555" stroke-width="1.3"/>
<path d="M386.8 133.2H596.5" stroke="#000" stroke-width="1.3"/>
<path d="M596.5 0V133.2" stroke="#666" stroke-width="1.3"/>
</g>

<!-- LEGEND -->
<g id="legend">
<text x="5.4" y="19.8" font-size="19.7" textLength="74.6" lengthAdjust="spacingAndGlyphs">Climatic</text>
<text x="85.2" y="19.8" font-size="19.7" textLength="81" lengthAdjust="spacingAndGlyphs">Suitability</text>
<rect x="12" y="30" width="30" height="15" fill="#e60000"/>
<rect x="12" y="51.4" width="30" height="15" fill="#ff0000"/>
<rect x="12" y="72.9" width="30" height="15" fill="#ff8080"/>
<rect x="12" y="94" width="30" height="15" fill="#ffc0c0"/>
<line x1="51.4" y1="29" x2="51.4" y2="109.6" stroke="#000" stroke-width="0.9"/>
<path d="M51.4 28.4l1.7 5.2l-1.7-1.2l-1.7 1.2z" fill="#000"/>
<path d="M51.4 110.1l1.7-5.2l-1.7 1.2l-1.7-1.2z" fill="#000"/>
<text x="73.4" y="42.6" font-size="15" textLength="33.6" lengthAdjust="spacingAndGlyphs">High</text>
<text x="73.4" y="107.1" font-size="15" textLength="28.8" lengthAdjust="spacingAndGlyphs">Low</text>
</g>

<!-- SCALE BARS -->
<g id="scale">
<rect x="61" y="353.8" width="74.4" height="7.8" fill="#fff" stroke="#000" stroke-width="1"/>
<rect x="61" y="382.6" width="119.8" height="7.8" fill="#fff" stroke="#000" stroke-width="1"/>
<text x="91.6" y="349.7" font-size="8.6">500</text>
<text x="114" y="378.2" font-size="8.6">500</text>
<text x="137.8" y="361.7" font-size="8.8" textLength="43" lengthAdjust="spacingAndGlyphs">Kilometers</text>
<text x="183.8" y="390.5" font-size="8.8">Miles</text>
</g>

<!-- NORTH ARROW -->
<g id="north">
<path d="M499.4 354.5L511.1 386.4L499.75 379.9L488.9 386.4Z" fill="#000"/>
<text class="serif" x="499.8" y="348.6" font-size="10.8" text-anchor="middle">N</text>
</g>
</svg>
</body></html>
